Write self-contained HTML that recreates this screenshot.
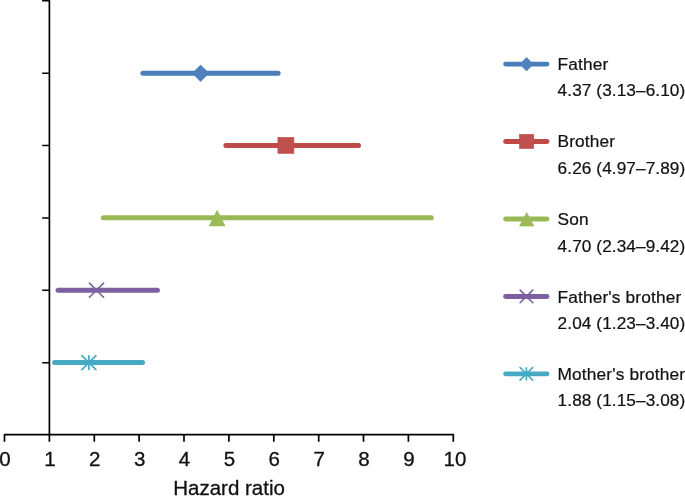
<!DOCTYPE html>
<html>
<head>
<meta charset="utf-8">
<title>Hazard ratio</title>
<style>
html,body{margin:0;padding:0;background:#fff;}
body{width:685px;height:496px;overflow:hidden;}
svg{display:block;}
text{font-family:"Liberation Sans",sans-serif;fill:#111;stroke:#111;stroke-width:0.3px;}
.ax{font-size:20.5px;text-anchor:middle;}
.lg{font-size:17.3px;letter-spacing:0.15px;}
.lg text{stroke-width:0.22px;}
.nm{font-size:17.2px;letter-spacing:0.1px;}
</style>
</head>
<body>
<svg width="685" height="496" viewBox="0 0 685 496">
<rect width="685" height="496" fill="#fff"/>
<!-- axes -->
<g stroke="#000" stroke-width="1.7" fill="none" stroke-linecap="butt" stroke-linejoin="round">
<path d="M42.1 0.6H49.4V434.7"/>
<path stroke-width="1.5" d="M42.2 73.2H49.4M42.2 145.6H49.4M42.2 218H49.4M42.2 290.3H49.4M42.2 362.75H49.4"/>
<path d="M4.5 441.7V434.7H453.3V441.7"/>
<path d="M49.4 434.7V441.7 M94.3 434.7V441.7 M139.1 434.7V441.7 M184.0 434.7V441.7 M228.9 434.7V441.7 M273.8 434.7V441.7 M318.7 434.7V441.7 M363.5 434.7V441.7 M408.4 434.7V441.7"/>
</g>
<g class="ax">
<text x="5" y="465.65">0</text>
<text x="49.9" y="465.65">1</text>
<text x="94.8" y="465.65">2</text>
<text x="139.6" y="465.65">3</text>
<text x="184.5" y="465.65">4</text>
<text x="229.4" y="465.65">5</text>
<text x="274.3" y="465.65">6</text>
<text x="319.2" y="465.65">7</text>
<text x="364" y="465.65">8</text>
<text x="408.9" y="465.65">9</text>
<text x="455" y="465.65">10</text>
</g>
<text x="229.1" y="495.1" text-anchor="middle" style="font-size:20.5px">Hazard ratio</text>

<!-- data -->
<g stroke-width="5" stroke-linecap="round" fill="none">
<path d="M142.9 73.25H278.1" stroke="#4a7ebb"/>
<path d="M225.9 145.55H358.5" stroke="#be4b48"/>
<path d="M103.4 217.75H431.3" stroke="#98b954"/>
<path d="M58.1 290.3H157.4" stroke="#7d60a0"/>
<path d="M54.6 362.6H142.5" stroke="#46aac5"/>
</g>
<path d="M200.6 65L208.95 73.25L200.6 81.5L192.25 73.25Z" fill="#4f81bd" stroke="#4a7ebb" stroke-width="0.6"/>
<rect x="277.9" y="137.4" width="16" height="16" fill="#c0504d" stroke="#be4b48" stroke-width="0.6"/>
<path d="M217.15 210.3L225.15 225.9H209.15Z" fill="#9bbb59" stroke="#98b954" stroke-width="0.6" stroke-linejoin="round"/>
<path d="M89.4 283.1L103.6 297.3M103.6 283.1L89.4 297.3" stroke="#7d60a0" stroke-width="1.6" stroke-linecap="round" fill="none"/>
<path d="M81.9 355.6L95.9 369.6M95.9 355.6L81.9 369.6M88.9 355.8V369.4" stroke="#46aac5" stroke-width="1.7" stroke-linecap="round" fill="none"/>

<!-- legend -->
<g stroke-width="4.9" stroke-linecap="round" fill="none">
<path d="M505.6 64.1H547" stroke="#4a7ebb"/>
<path d="M505.6 141.5H547" stroke="#be4b48"/>
<path d="M505.6 218.95H547" stroke="#98b954"/>
<path d="M505.6 296.45H547" stroke="#7d60a0"/>
<path d="M505.6 373.85H547" stroke="#46aac5"/>
</g>
<path d="M526.5 57.3L533.2 64.2L526.5 71.1L519.8 64.2Z" fill="#4f81bd" stroke="#4a7ebb" stroke-width="0.6"/>
<rect x="519.5" y="134.3" width="14.2" height="14.2" fill="#c0504d" stroke="#be4b48" stroke-width="0.6"/>
<path d="M526.7 212.4L533.9 226.1H519.5Z" fill="#9bbb59" stroke="#98b954" stroke-width="0.6" stroke-linejoin="round"/>
<path d="M520.15 290.10L532.75 302.70M532.75 290.10L520.15 302.70" stroke="#7d60a0" stroke-width="1.6" stroke-linecap="round" fill="none"/>
<path d="M520.10 367.50L532.70 380.10M532.70 367.50L520.10 380.10M526.40 367.80V379.80" stroke="#46aac5" stroke-width="1.7" stroke-linecap="round" fill="none"/>

<g class="lg">
<text x="557.5" y="69.7">Father</text>
<text x="557.6" y="96.3" class="nm">4.37 (3.13–6.10)</text>
<text x="557.5" y="147.1">Brother</text>
<text x="557.6" y="173.6" class="nm">6.26 (4.97–7.89)</text>
<text x="557.5" y="224.8">Son</text>
<text x="557.6" y="251.6" class="nm">4.70 (2.34–9.42)</text>
<text x="557.5" y="302.6">Father's brother</text>
<text x="557.6" y="328.9" class="nm">2.04 (1.23–3.40)</text>
<text x="557.5" y="380">Mother's brother</text>
<text x="557.6" y="406.3" class="nm">1.88 (1.15–3.08)</text>
</g>
</svg>
</body>
</html>
